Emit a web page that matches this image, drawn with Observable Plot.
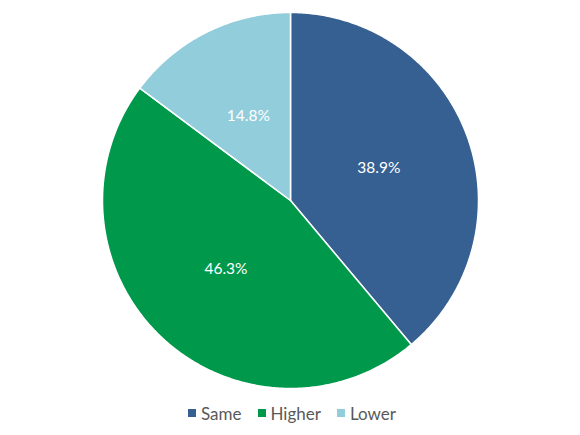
<!DOCTYPE html>
<html>
<head>
<meta charset="utf-8">
<script src="https://cdn.jsdelivr.net/npm/d3@7"></script>
<script src="https://cdn.jsdelivr.net/npm/@observablehq/plot@0.6"></script>
<style>
  html, body { margin: 0; padding: 0; background: #fff; }
  body { width: 580px; font-family: Lato, "Open Sans", sans-serif; }
  #legend { display: flex; justify-content: center; align-items: center; gap: 16px; height: 26px; margin-top: 0px; font-size: 17px; color: #595959; padding-left: 4px; }
  #legend .item { display: flex; align-items: center; gap: 5px; }
  #legend .sw { width: 8px; height: 8px; display: inline-block; }
</style>
</head>
<body>
<div id="chart"></div>
<div id="legend"></div>
<script>
const categories = ["Same", "Higher", "Lower"];
const values = [38.9, 46.3, 14.8];
const colors = ["#366092", "#00994C", "#92CDDC"];

const pie = d3.pie().sort(null).value(d => d.value)(categories.map((c, i) => ({key: c, value: values[i]})));

// polygon points for each slice (angles clockwise from 12 o'clock)
const pts = [];
const labels = [];
pie.forEach(s => {
  pts.push({key: s.data.key, x: 0, y: 0});
  const n = Math.max(2, Math.ceil((s.endAngle - s.startAngle) / (Math.PI / 360)));
  for (let k = 0; k <= n; k++) {
    const a = s.startAngle + (s.endAngle - s.startAngle) * k / n;
    pts.push({key: s.data.key, x: Math.sin(a), y: Math.cos(a)});
  }
  pts.push({key: s.data.key, x: 0, y: 0});
  const m = (s.startAngle + s.endAngle) / 2;
  labels.push({key: s.data.key, x: 0.5 * Math.sin(m), y: 0.5 * Math.cos(m), text: s.data.value.toFixed(1) + "%"});
});

const plot = Plot.plot({
  width: 580,
  height: 400,
  marginLeft: 102,
  marginRight: 102,
  marginTop: 12,
  marginBottom: 12,
  x: {domain: [-1, 1], axis: null},
  y: {domain: [-1, 1], axis: null},
  color: {domain: categories, range: colors},
  style: {fontFamily: "Lato, 'Open Sans', sans-serif", background: "#fff"},
  marks: [
    Plot.line(pts, {x: "x", y: "y", z: "key", fill: "key", stroke: "#fff", strokeWidth: 1.5, curve: "linear"}),
    Plot.text(labels, {x: "x", y: "y", text: "text", fill: "#fff", fontSize: 15.5})
  ]
});
document.getElementById("chart").appendChild(plot);

const lg = document.getElementById("legend");
categories.forEach((c, i) => {
  const it = document.createElement("span");
  it.className = "item";
  it.innerHTML = `<span class="sw" style="background:${colors[i]}"></span><span>${c}</span>`;
  lg.appendChild(it);
});
</script>
</body>
</html>
